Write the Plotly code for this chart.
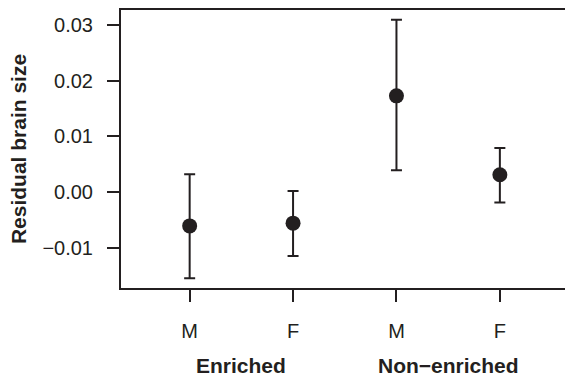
import plotly.graph_objects as go

positions = [1, 2, 3, 4]
sex_labels = ["M", "F", "M", "F"]
group_labels = ["Enriched", "Non\u2212enriched"]
group_centers = [1.5, 3.5]
means = [-0.0061, -0.0056, 0.0173, 0.0031]
upper = [0.0032, 0.0002, 0.0310, 0.0079]
lower = [-0.0155, -0.0115, 0.0039, -0.0019]
y_ticks = [-0.01, 0.0, 0.01, 0.02, 0.03]

err_plus = [u - m for u, m in zip(upper, means)]
err_minus = [m - l for m, l in zip(means, lower)]

ink = "#231f20"
font = "Liberation Sans, Arial, Helvetica, sans-serif"

fig = go.Figure()
fig.add_trace(go.Scatter(
    x=positions, y=means, mode="markers",
    marker=dict(size=15, color=ink),
    error_y=dict(type="data", symmetric=False, array=err_plus, arrayminus=err_minus,
                 color=ink, thickness=2, width=5.5),
    showlegend=False,
))

for c, g in zip(group_centers, group_labels):
    fig.add_annotation(x=c, y=0, xref="x", yref="paper", text="<b>" + g + "</b>",
                       showarrow=False, yanchor="middle", yshift=-77,
                       font=dict(family=font, size=21, color=ink))

fig.update_layout(
    width=565, height=376,
    margin=dict(l=121, r=0, t=10, b=88),
    paper_bgcolor="white", plot_bgcolor="white",
    font=dict(family=font, size=20, color=ink),
    xaxis=dict(range=[0.336, 4.63], tickvals=positions, ticktext=sex_labels,
               showgrid=False, zeroline=False, showline=True, linecolor=ink, linewidth=2,
               mirror=True, ticks="outside", ticklen=12, tickwidth=2, tickcolor=ink,
               ticklabelstandoff=12),
    yaxis=dict(range=[-0.01727, 0.03275], tickvals=y_ticks, tickformat=".2f",
               showgrid=False, zeroline=False, showline=True, linecolor=ink, linewidth=2,
               ticks="outside", ticklen=12, tickwidth=2, tickcolor=ink,
               ticklabelstandoff=10,
               title=dict(text="<b>Residual brain size</b>", standoff=10,
                          font=dict(size=21))),
)

fig.write_html("out.html", config={"displayModeBar": False},
               post_script="document.body.style.margin='0';document.body.style.overflow='hidden';")
